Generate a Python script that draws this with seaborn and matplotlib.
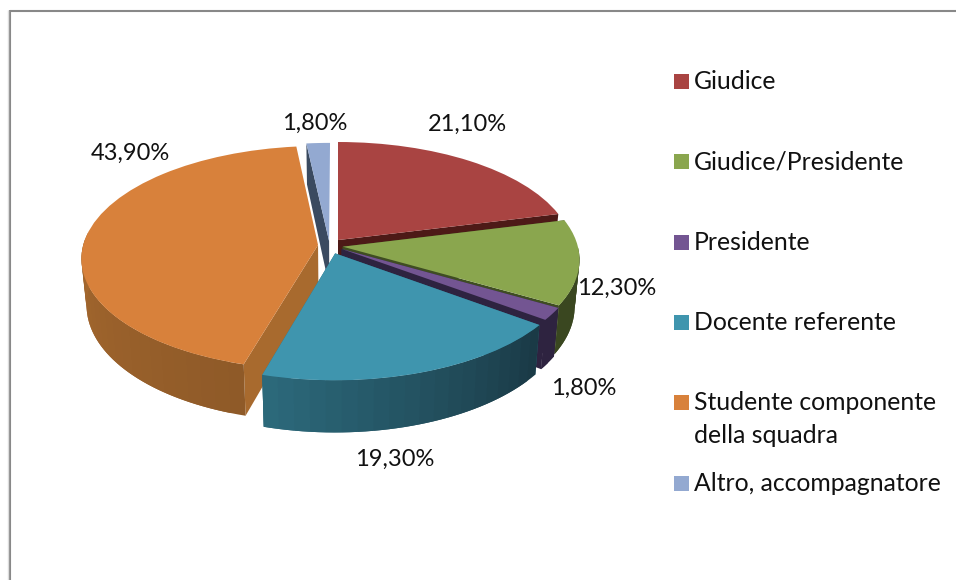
import numpy as np
import matplotlib
matplotlib.use('Agg')
import matplotlib.pyplot as plt
from matplotlib.patches import Rectangle
from matplotlib.transforms import Transform
import seaborn as sns

categories = ['Giudice', 'Giudice/Presidente', 'Presidente', 'Docente referente',
              'Studente componente\ndella squadra', 'Altro, accompagnatore']
values = [21.1, 12.3, 1.8, 19.3, 43.9, 1.8]

top_colors = ['#A94442', '#8AA64E', '#735592', '#3F95AE', '#D8813B', '#93A9D1']
face_colors = ['#4D1A17', '#3F4D22', '#2E2340', '#2B6A7C', '#A86A2E', '#3A4A60']
rim_start = ['#5A201E', '#3A4720', '#2E2340', '#1A3A46', '#8F5A28', '#3A4A60']
rim_end = ['#5A201E', '#3A4720', '#2E2340', '#2D6B7D', '#BC7735', '#3A4A60']
shifts = [(0, 0.09), (0.02, 0.03), (0.015, 0.01), (-0.012, -0.03), (-0.085, 0.045), (-0.038, 0.08)]

# order the slices get painted, back to front
paint_order = [5, 0, 1, 2, 4, 3]

CX, CY = 338, 250
RX, RY = 236, 111.5
PERSP = 0.115
DEPTH = 46
BOTTOM_SHRINK = 0.98


def project(u, v, z=0):
    s = 1 / (1 + PERSP * np.asarray(v))
    x = RX * np.asarray(u) * s * (1 - z * (1 - BOTTOM_SHRINK))
    return CX + x, CY - RY * np.asarray(v) * s + z * DEPTH * s


class PieProjection(Transform):
    input_dims = 2
    output_dims = 2

    def transform_non_affine(self, values):
        x, y = project(values[:, 0], values[:, 1])
        return np.column_stack([x, y])


def lerp_color(c1, c2, t):
    a = np.array(matplotlib.colors.to_rgb(c1))
    b = np.array(matplotlib.colors.to_rgb(c2))
    return a + (b - a) * t


sns.set_theme(style='white')
plt.rcParams['font.family'] = ['Lato', 'DejaVu Sans']

fig = plt.figure(figsize=(9.56, 5.8), dpi=100, facecolor='white')
ax = fig.add_axes([0, 0, 1, 1])

palette = sns.color_palette(top_colors)
wedges, _ = ax.pie(values, colors=palette, startangle=90, counterclock=False,
                   wedgeprops={'linewidth': 0, 'edgecolor': 'none'})
ax.set_aspect('auto')
ax.set_xlim(0, 956)
ax.set_ylim(580, 0)
ax.axis('off')

proj = PieProjection()
bounds = np.concatenate([[0], np.cumsum(values)]) / sum(values) * 2 * np.pi

for rank, i in enumerate(paint_order):
    du, dv = shifts[i]
    z = 10 + rank * 3
    a0, a1 = bounds[i], bounds[i + 1]

    # the two flat cuts, a cut facing away from the viewer is not drawn
    for a in (a0, a1):
        if a == a1 and np.sin(a) < 0 and np.cos(a) > 0:
            continue
        x1, y1 = project(du, dv)
        x2, y2 = project(du + np.sin(a), dv + np.cos(a))
        x3, y3 = project(du + np.sin(a), dv + np.cos(a), 1)
        x4, y4 = project(du, dv, 1)
        ax.fill([x1, x2, x3, x4], [y1, y2, y3, y4], color=face_colors[i], lw=0, zorder=z)

    # outer rim, strips overlap a bit so no seams show. back of the rim stays hidden
    steps = max(2, int((a1 - a0) / 0.06))
    edges = np.linspace(a0, a1, steps + 1)
    for k in range(steps):
        end = edges[min(k + 2, steps)]
        aa = np.linspace(edges[k], end, 5)
        if np.cos(edges[k]) > 0.03:
            continue
        u = du + np.sin(aa)
        v = dv + np.cos(aa)
        xt, yt = project(u, v)
        xb, yb = project(u, v, 1)
        ax.fill(np.r_[xt, xb[::-1]], np.r_[yt, yb[::-1]],
                color=lerp_color(rim_start[i], rim_end[i], k / steps), lw=0, zorder=z + 1)

    wedges[i].set_center((du, dv))
    wedges[i].set_transform(proj + ax.transData)
    wedges[i].set_clip_on(False)
    wedges[i].set_zorder(z + 2)

# slice labels
label_xy = [(467, 124), (617, 288), (584, 388), (395, 459), (130, 153), (315, 123)]
for val, (x, y) in zip(values, label_xy):
    ax.text(x, y, f'{val:.2f}%'.replace('.', ','), fontsize=17, color='#111111',
            ha='center', va='center', zorder=40)

# legend is placed by hand, the spacing is not even in the original
legend_y = [81, 161, 242, 322, 402, 483]
for name, col, y in zip(categories, top_colors, legend_y):
    ax.add_patch(Rectangle((674, y - 7.5), 15, 15, facecolor=col, edgecolor='none', zorder=40))
    ax.text(694, y - 11, name, fontsize=17.8, color='#111111', ha='left', va='top',
            linespacing=1.52, zorder=40)

# chart frame, only top and left are in the picture
ax.plot([10, 956], [10.5, 10.5], color='#888888', lw=1.5, zorder=50, solid_capstyle='butt')
ax.plot([10.5, 10.5], [10, 580], color='#888888', lw=1.5, zorder=50, solid_capstyle='butt')
ax.plot([8.5, 8.5], [10, 580], color='#DDDDDD', lw=1, zorder=50, solid_capstyle='butt')

fig.savefig('out.png', dpi=100, facecolor='white')
